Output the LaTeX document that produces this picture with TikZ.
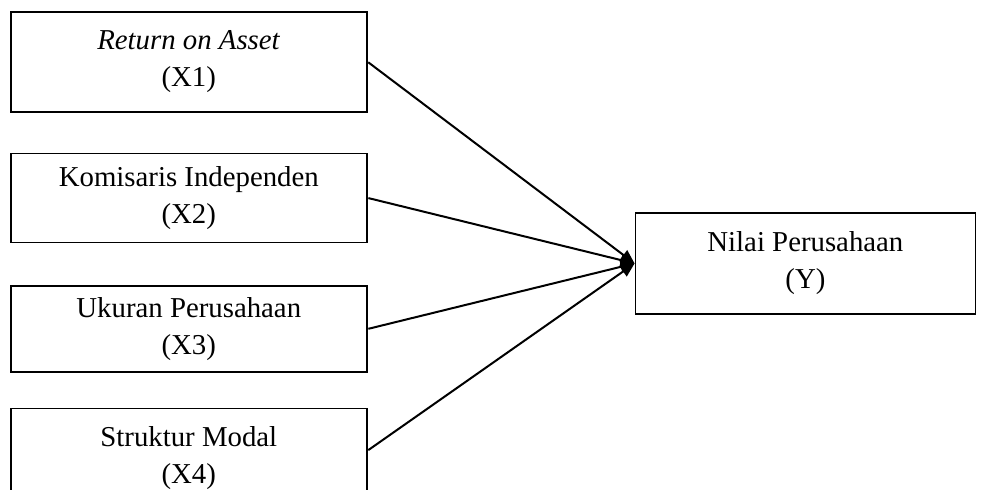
\documentclass[tikz,border=0pt]{standalone}
\usepackage{fontspec}
\setmainfont{Liberation Serif}
\usetikzlibrary{positioning,calc,arrows.meta}

\begin{document}
\begin{tikzpicture} [auto,node distance=20pt,semithick]
        \tikzstyle{var}=[rectangle, draw, line width=0.8pt, inner sep=0pt, minimum width=178pt, align=center, font=\fontsize{14.4}{18.5}\selectfont]
        \useasboundingbox (0,0) rectangle (490.5pt,-245pt);
        \node[var, minimum height=50pt, anchor=north west] (X1) at (5pt,-5.5pt) {\textit{Return on Asset}\\(X1)};
        \node[var, minimum height=44.5pt] (X2) [below=20pt of X1] {Komisaris Independen\\(X2)};
        \node[var, minimum height=43pt] (X3) [below=21pt of X2] {Ukuran Perusahaan\\(X3)};
        \node[var, minimum height=49pt] (X4) [below=17.5pt of X3] {Struktur Modal\\(X4)};
        \coordinate (mid) at ($(X2.east)!0.5!(X3.east)$);
        \node[var, minimum width=170pt, minimum height=50.5pt] (Y) [right=133.5pt of mid] {Nilai Perusahaan\\(Y)};
        
        \path[->,>={Triangle[length=7pt,width=6pt]},line width=1pt,shorten <=0.4pt]
        (X1.east) edge (Y.west)
        (X2.east) edge (Y.west)
        (X3.east) edge (Y.west)
        ([yshift=3.5pt]X4.east) edge (Y.west);
      \end{tikzpicture}
\end{document}
